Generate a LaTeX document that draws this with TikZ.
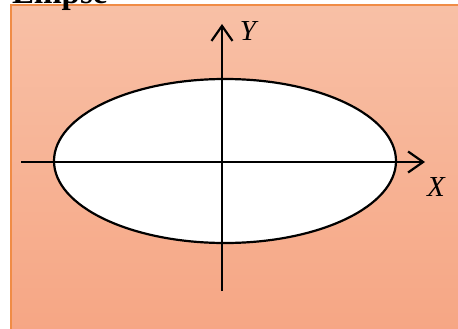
\documentclass[tikz,border=0pt]{standalone}
\usepackage{fontspec}
\setmainfont{Liberation Serif}
\usetikzlibrary{arrows.meta}
\definecolor{bgtop}{RGB}{248,192,166}
\definecolor{bgbot}{RGB}{246,166,132}
\definecolor{bordr}{RGB}{240,140,70}
\tikzset{
  axis/.style={line width=2.2pt, -{Straight Barb[length=15pt,width=21pt,line width=2.2pt]}},
  lbl/.style={font=\itshape\fontsize{29}{31}\selectfont, inner sep=0pt},
}
\begin{document}
\begin{tikzpicture}[x=1pt,y=-1pt]
\useasboundingbox (0,0) rectangle (458,329);
\shade[top color=bgtop, bottom color=bgbot] (11,5) rectangle (460,331);
\draw[bordr, line width=1.2pt] (11,331) -- (11,5) -- (460,5);
\node[anchor=base west, inner sep=0pt, font=\bfseries\fontsize{33}{35}\selectfont] (title) at (12,4) {Ellipse};
\draw[fill=white, line width=2.2pt] (225,161) ellipse [x radius=171, y radius=82];
\coordinate (xs) at (21,162);
\coordinate (xe) at (425,162);
\coordinate (ys) at (222,291);
\coordinate (ye) at (222,24);
\draw[axis] (xs) -- (xe);
\draw[axis] (ys) -- (ye);
\node[lbl] (Y) at (248,31) {Y};
\node[lbl] (X) at (436,187) {X};
\end{tikzpicture}
\end{document}
